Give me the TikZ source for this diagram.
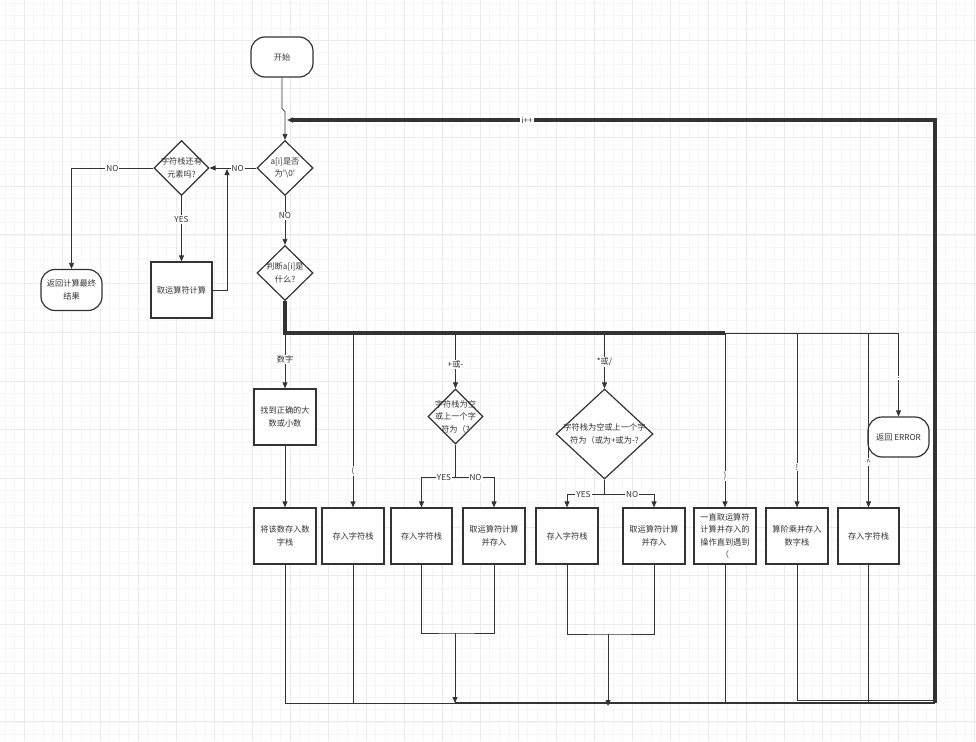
\documentclass[tikz,border=0pt]{standalone}
\usepackage{fontspec}
\newfontfamily\cjk{Noto Sans CJK SC}
\usetikzlibrary{shapes.geometric, arrows.meta}
\definecolor{ink}{HTML}{333333}
\definecolor{gridmin}{HTML}{F6F6F6}
\definecolor{gridmaj}{HTML}{EBEBEB}
\begin{document}
\begin{tikzpicture}[x=1pt, y=-1pt, font=\cjk\fontsize{8.2}{12.5}\selectfont,
  box/.style={draw=ink, fill=white, line width=1.2pt, minimum width=62, minimum height=56, align=center, inner sep=0pt, text=ink},
  term/.style={draw=ink, fill=white, line width=1.2pt, rounded corners=14pt, minimum width=62, minimum height=40, align=center, inner sep=0pt, text=ink},
  dec/.style={diamond, draw=ink, fill=white, line width=1.2pt, inner sep=0pt, minimum width=56, minimum height=55},
  dtext/.style={align=center, text=ink, inner sep=0pt},
  lbl/.style={fill=white, inner sep=1pt, text=ink},
  ln/.style={draw=ink, line width=0.8pt},
  midln/.style={draw=ink, line width=1.6pt},
  thickln/.style={draw=ink, line width=3.2pt},
  arr/.style={-{Triangle[length=6pt,width=5pt]}}]

\useasboundingbox (0,0) rectangle (976,741);
\fill[white] (0,0) rectangle (976,741);
\foreach \i in {0,...,102} \draw[gridmin, line width=0.6pt] ({5+9.5*\i},0) -- ++(0,741);
\foreach \j in {0,...,60} \draw[gridmin, line width=0.6pt] (0,{3.5+12.175*\j}) -- ++(976,0);
\foreach \i in {0,...,25} \draw[gridmaj, line width=0.8pt] ({24+38*\i},0) -- ++(0,741);
\foreach \j in {0,...,14} \draw[gridmaj, line width=0.8pt] (0,{40+48.7*\j}) -- ++(976,0);

% nodes
\node[term] (start) at (282,57) {开始};
\node[dec, label={[dtext]center:a[i]是否\\为\textquotesingle\textbackslash 0\textquotesingle}] (d1) at (285,168) {};
\node[dec, minimum width=55, label={[dtext]center:字符栈还有\\元素吗?}] (d2) at (181.5,168) {};
\node[term, minimum width=61, minimum height=41] (ter2) at (71.5,290) {返回计算最终\\结果};
\node[box, minimum width=61] (box0) at (181.5,290) {取运算符计算};
\node[dec, label={[dtext]center:判断a[i]是\\什么?}] (d3) at (285,273) {};

\node[box] (b1) at (285,417) {找到正确的大\\数或小数};
\node[box] (b2) at (285,536) {将该数存入数\\字栈};
\node[box] (b3) at (353,536) {存入字符栈};
\node[dec, minimum width=55, label={[dtext]center:字符栈为空\\或上一个字\\符为（?}] (d4) at (455.5,416.5) {};
\node[box, minimum width=61] (b4) at (421.5,536) {存入字符栈};
\node[box] (b5) at (494,536) {取运算符计算\\并存入};
\node[dec, minimum width=97, minimum height=90, label={[dtext]center:字符栈为空或上一个字\\符为（或为+或为-?}] (d5) at (604.5,434) {};
\node[box] (b6) at (567,536) {存入字符栈};
\node[box] (b7) at (654,536) {取运算符计算\\并存入};
\node[box] (b8) at (725,536) {一直取运算符\\计算并存入的\\操作直到遇到\\（};
\node[box] (b9) at (797,536) {算阶乘并存入\\数字栈};
\node[box, minimum width=61] (b10) at (868.5,536) {存入字符栈};
\node[term, minimum width=61] (ter3) at (898.5,437) {返回 ERROR};

\coordinate (merge) at (287,120);
\coordinate (bus) at (285,333);
\coordinate (bl) at (285,703);
\coordinate (bm) at (455,703);
\coordinate (br) at (935,703);
\coordinate (m4) at (455,633);
\coordinate (m5) at (608,634);

% top part
\draw[ln, arr] (start.south) -- ++(0,31) -- ++(3,3) -- (d1.north);
\draw[ln, arr] (d1.west) -- node[lbl, pos=0.4] {NO} (d2.east);
\draw[ln, arr] (d2.west) -| node[lbl, pos=0.25] {NO} (ter2.north);
\draw[ln, arr] (d2.south) -- node[lbl, pos=0.36] {YES} (box0.north);
\draw[ln, arr] (box0.east) -| (227,169);
\draw[ln, arr] (d1.south) -- node[lbl, pos=0.4] {NO} (d3.north);

% branches
\draw[thickln] (d3.south) -- (bus) -- (bus -| b8);
\draw[ln] (bus -| b8) -- (bus -| ter3);
\draw[ln, arr] (bus -| b1) -- node[lbl, pos=0.48] {数字} (b1.north);
\draw[ln, arr] (b1.south) -- (b2.north);
\draw[ln, arr] (bus -| b3) -- node[lbl, pos=0.79] {(} (b3.north);
\draw[ln, arr] (bus -| d4) -- node[lbl, pos=0.57] {+或-} (d4.north);
\draw[ln] (d4.south) -- ++(0,33) coordinate (s4);
\draw[ln, arr] (s4) -| node[lbl, pos=0.17] {YES} (b4.north);
\draw[ln, arr] (s4) -| node[lbl, pos=0.26] {NO} (b5.north);
\draw[ln, arr] (bus -| d5) -- node[lbl, pos=0.52] {*或/} (d5.north);
\draw[ln] (d5.south) -- ++(0,15) coordinate (s5);
\draw[ln, arr] (s5) -| node[lbl, pos=0.28] {YES} (b6.north);
\draw[ln, arr] (s5) -| node[lbl, pos=0.28] {NO} (b7.north);
\draw[ln, arr] (bus -| b8) -- node[lbl, pos=0.82] {)} (b8.north);
\draw[ln, arr] (bus -| b9) -- node[lbl, pos=0.77] {!} (b9.north);
\draw[ln, arr] (bus -| b10) -- node[lbl, pos=0.74] {\^{}} (b10.north);
\draw[ln, arr] (bus -| ter3) -- node[lbl, pos=0.54] {.} (ter3.north);

% bottom part
\draw[ln] (b2.south) -- (bl) -- (bm);
\draw[ln] (b3.south) -- (b3.south |- bl);
\draw[ln] (b4.south) |- (m4) -| (b5.south);
\draw[ln, arr] (m4) -- (bm);
\draw[ln] (b6.south) |- (m5) -| (b7.south);
\draw[ln, arr] (m5) -- (608,706);
\draw[ln] (b8.south) -- (b8.south |- bl);
\draw[ln] (b9.south) |- (935,700);
\draw[ln] (b10.south) -- (b10.south |- bl);
\draw[midln] (bm) -- (br);
\draw[thickln, arr] (br) -- (935,120) -- (merge);
\node[lbl] (inc) at (527,120) {i++};

\end{tikzpicture}
\end{document}
